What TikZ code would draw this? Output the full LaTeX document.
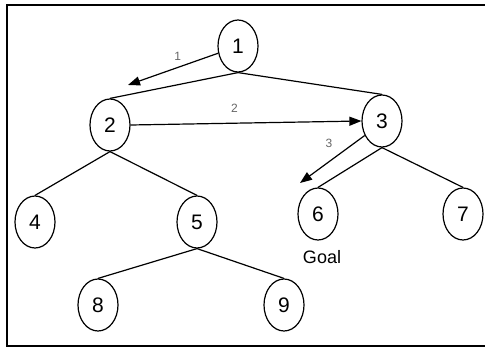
\documentclass[tikz,border=0pt]{standalone}
\usepackage{fontspec}
\setmainfont{Liberation Sans}
\usetikzlibrary{shapes.geometric, arrows.meta}

\begin{document}
\begin{tikzpicture}[
    x=0.5pt, y=-0.5pt,
    every node/.style={inner sep=0pt},
    state/.style={ellipse, draw, line width=0.6pt, minimum width=20pt, minimum height=26pt, font=\fontsize{10.5}{12}\selectfont},
    edge/.style={line width=0.6pt},
    arrow/.style={-{Triangle[length=6pt, width=4.5pt]}, line width=0.6pt},
    steplabel/.style={font=\fontsize{6}{7}\selectfont, text=black!60}
]
\useasboundingbox (0,0) rectangle (485,347);

% Frame
\draw [line width=1pt] (486,5) -- (7,5) -- (7,346) -- (486,346);

% Nodes
\node (n1) [state] at (238,46) {1};
\node (n2) [state] at (110,125) {2};
\node (n3) [state] at (382,121) {3};
\node (n4) [state] at (35,222) {4};
\node (n5) [state] at (197,222) {5};
\node (n6) [state] at (318,214) {6};
\node (n7) [state] at (463,214) {7};
\node (n8) [state] at (98,305) {8};
\node (n9) [state] at (284,305) {9};
\node (goal) [font=\fontsize{9}{11}\selectfont] at (322,257) {Goal};

% Tree edges
\draw [edge] (n1.south) -- (n2.north);
\draw [edge] (n1.south) -- (n3.north);
\draw [edge] (n2.south) -- (n4.north);
\draw [edge] (n2.south) -- (n5.north);
\draw [edge] (n3.south) -- (n6.north);
\draw [edge] (n3.south) -- (n7.north);
\draw [edge] (n5.south) -- (n8.north);
\draw [edge] (n5.south) -- (n9.north);

% Search order
\coordinate (end1) at (128,85);
\coordinate (end3) at (300,183);
\draw [arrow] (n1.200) -- (end1) node [steplabel, pos=0.45, above=3pt] {1};
\draw [arrow] (n2.east) -- (n3.west) node [steplabel, pos=0.45, above=5pt] {2};
\draw [arrow] (n3.220) -- (end3) node [steplabel, pos=0.4, above left=3pt] {3};

\end{tikzpicture}
\end{document}
